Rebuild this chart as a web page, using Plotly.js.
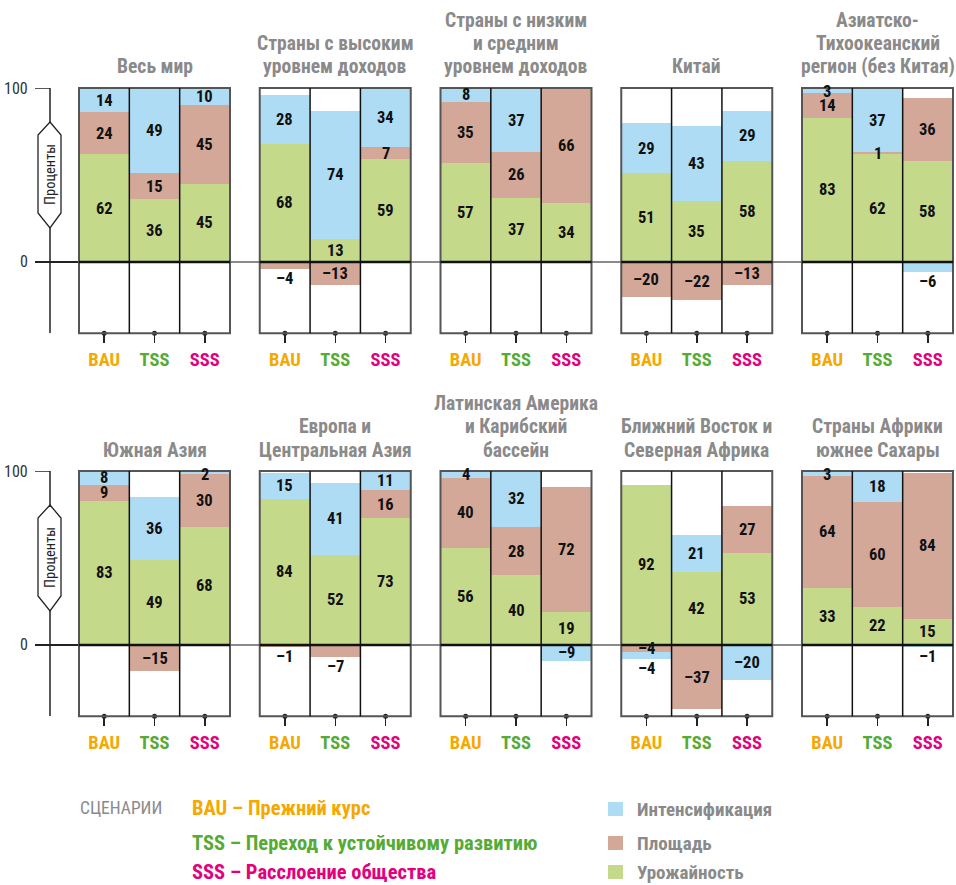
<!DOCTYPE html>
<html><head><meta charset="utf-8">
<script src="https://cdn.plot.ly/plotly-3.0.1.min.js"></script>
<style>body{margin:0;background:#fff}</style>
</head><body><div id="chart" style="width:956px;height:885px"></div>
<script>
// ---------------- DATA ----------------
const scenarios = ['BAU', 'TSS', 'SSS'];
const scenarioNames = ['Прежний курс', 'Переход к устойчивому развитию', 'Расслоение общества'];
const regions = [
  'Весь мир',
  'Страны с высоким<br>уровнем доходов',
  'Страны с низким<br>и средним<br>уровнем доходов',
  'Китай',
  'Азиатско-<br>Тихоокеанский<br>регион (без Китая)',
  'Южная Азия',
  'Европа и<br>Центральная Азия',
  'Латинская Америка<br>и Карибский<br>бассейн',
  'Ближний Восток и<br>Северная Африка',
  'Страны Африки<br>южнее Сахары'
];
// per region: [BAU, TSS, SSS]
const yieldVals  = [[62,36,45],[68,13,59],[57,37,34],[51,35,58],[83,62,58],[83,49,68],[84,52,73],[56,40,19],[92,42,53],[33,22,15]];
const areaVals   = [[24,15,45],[-4,-13,7],[35,26,66],[-20,-22,-13],[14,1,36],[9,-15,30],[-1,-7,16],[40,28,72],[-4,-37,27],[64,60,84]];
const intensVals = [[14,49,10],[28,74,34],[8,37,0],[29,43,29],[3,37,-6],[8,36,2],[15,41,11],[4,32,-9],[-4,21,-20],[3,18,-1]];
const componentNames = ['Интенсификация', 'Площадь', 'Урожайность'];
const axisLabel = 'Проценты';
const legendTitle = 'СЦЕНАРИИ';
const yTicks = [0, 100];

// ---------------- STYLE ----------------
const W = 956, H = 885;
const COND = "'Roboto Condensed', Roboto, sans-serif";
const colYield = '#c5d98a', colArea = '#d4a898', colInt = '#aedcf5';
const scenColors = ['#f5a800', '#55ab34', '#e4007c'];
const titleGray = '#8a8a8a';
const yRange = [-41, 100];
const px = v => v / W;
const py = v => 1 - v / H;

const rowTop = [88, 471];
const rowBot = [333.3, 716.3];
const titleLastLine = [67, 450];
const titleLineGap = 23.5;
const panelLeft = c => 79 + c * 180.75;
const panelW = 151;
const scenRowY = [808, 843, 872];
const compRowY = [809, 843, 872];

const data = [];
const layout = {
  width: W, height: H,
  margin: {l: 0, r: 0, t: 0, b: 0},
  paper_bgcolor: '#fff', plot_bgcolor: 'rgba(0,0,0,0)',
  barmode: 'relative', bargap: 0,
  showlegend: false,
  hovermode: false,
  shapes: [], annotations: []
};

for (let r = 0; r < 2; r++) {
  const yref = 'y' + (r * 5 + 1);
  layout.shapes.push({type: 'line', xref: 'paper', yref: yref, x0: px(35), x1: px(954), y0: 0, y1: 0,
    line: {color: '#8a8a8a', width: 2}, layer: 'below'});
  layout.shapes.push({type: 'line', xref: 'paper', yref: yref, x0: px(50), x1: px(50), y0: yRange[0], y1: 100,
    line: {color: '#222', width: 1.5}, layer: 'above'});
  layout.shapes.push({type: 'line', xref: 'paper', yref: yref, x0: px(35), x1: px(50), y0: 100, y1: 100,
    line: {color: '#222', width: 1.5}, layer: 'above'});
  layout.shapes.push({type: 'line', xref: 'paper', yref: yref, x0: px(35), x1: px(79), y0: 0, y1: 0,
    line: {color: '#222', width: 2}, layer: 'above'});
  yTicks.forEach(t => layout.annotations.push({xref: 'paper', yref: yref, x: px(30), y: t, text: String(t),
    showarrow: false, xanchor: 'right', yanchor: 'middle', font: {family: COND, size: 16, color: '#333'}}));
  const o = r * 383;
  const pts = [[50,122],[61,135],[61,213],[50,228],[38,213],[38,135]];
  const path = 'M ' + pts.map(p => px(p[0]) + ',' + py(p[1] + o)).join(' L ') + ' Z';
  layout.shapes.push({type: 'path', xref: 'paper', yref: 'paper', path: path,
    fillcolor: '#fff', line: {color: '#222', width: 1.3}, layer: 'above'});
  layout.annotations.push({xref: 'paper', yref: 'paper', x: px(50), y: py(175 + o), text: axisLabel, textangle: -90,
    showarrow: false, xanchor: 'center', yanchor: 'middle', font: {family: COND, size: 14.5, color: '#222'}});
}

const tickText = scenarios.map((s, i) => `<span style="color:${scenColors[i]}"><b>${s}</b></span>`);

regions.forEach((name, i) => {
  const n = i + 1, r = Math.floor(i / 5), c = i % 5;
  const xa = 'x' + n, ya = 'y' + n;
  const L = panelLeft(c);
  layout['xaxis' + n] = {
    domain: [px(L), px(L + panelW)], anchor: ya, type: 'category', range: [-0.5, 2.5],
    categoryorder: 'array', categoryarray: scenarios,
    tickvals: scenarios, ticktext: tickText, ticks: 'outside', ticklen: 9, tickwidth: 1.5, tickcolor: '#222',
    tickfont: {family: COND, size: 18.5}, showline: false, showgrid: false, zeroline: false, fixedrange: true
  };
  layout['yaxis' + n] = {
    domain: [py(rowBot[r]), py(rowTop[r])], anchor: xa, range: yRange, visible: false, fixedrange: true
  };
  const series = [[yieldVals[i], colYield], [areaVals[i], colArea], [intensVals[i], colInt]];
  series.forEach(([vals, col]) => data.push({
    type: 'bar', x: scenarios, y: vals, xaxis: xa, yaxis: ya,
    marker: {color: col, line: {width: 0}}, hoverinfo: 'skip'
  }));
  data.push({type: 'scatter', mode: 'markers', x: scenarios, y: scenarios.map(() => yRange[0]), xaxis: xa, yaxis: ya,
    marker: {color: '#222', size: 5}, cliponaxis: false, hoverinfo: 'skip'});
  layout.shapes.push({type: 'rect', xref: xa + ' domain', yref: ya + ' domain', x0: 0, x1: 1, y0: 0, y1: 1,
    line: {color: '#555', width: 2}, layer: 'above'});
  [0.5, 1.5].forEach(s => layout.shapes.push({type: 'line', xref: xa, yref: ya + ' domain', x0: s, x1: s, y0: 0, y1: 1,
    line: {color: '#111', width: 1.5}, layer: 'above'}));
  layout.shapes.push({type: 'line', xref: xa + ' domain', yref: ya, x0: 0, x1: 1, y0: 0, y1: 0,
    line: {color: '#111', width: 2.5}, layer: 'above'});
  const lines = name.split('<br>');
  lines.forEach((ln, li) => {
    const yc = titleLastLine[r] - (lines.length - 1 - li) * titleLineGap;
    layout.annotations.push({xref: xa + ' domain', yref: 'paper', x: 0.5, y: py(yc), text: '<b>' + ln + '</b>',
      showarrow: false, xanchor: 'center', yanchor: 'middle', align: 'center',
      font: {family: COND, size: 19.6, color: titleGray}});
  });
  scenarios.forEach((s, k) => {
    const segs = [yieldVals[i][k], areaVals[i][k], intensVals[i][k]];
    let pos = 0, neg = 0;
    const negIdx = segs.map((v, j) => v < 0 ? j : -1).filter(j => j >= 0);
    const lastNeg = negIdx.length ? negIdx[negIdx.length - 1] : -1;
    segs.forEach((v, j) => {
      if (v === 0) return;
      let y;
      if (v > 0) {
        y = Math.min(pos + v / 2, 98.2);
        pos += v;
      } else {
        const end = neg + v;
        if (Math.abs(v) <= 7 && j === lastNeg) y = end - 5.5;
        else y = neg + v / 2;
        neg = end;
      }
      layout.annotations.push({xref: xa, yref: ya, x: s, y: y, text: '<b>' + (v < 0 ? '–' + Math.abs(v) : v) + '</b>',
        showarrow: false, xanchor: 'center', yanchor: 'middle', font: {family: COND, size: 16.5, color: '#111'}});
    });
  });
});

layout.annotations.push({xref: 'paper', yref: 'paper', x: px(78), y: py(808), text: legendTitle, showarrow: false,
  xanchor: 'left', yanchor: 'middle', font: {family: COND, size: 17.5, color: '#8a8a8a'}});
scenarios.forEach((s, k) => layout.annotations.push({xref: 'paper', yref: 'paper', x: px(190), y: py(scenRowY[k]),
  text: '<b>' + s + ' – ' + scenarioNames[k] + '</b>', showarrow: false, xanchor: 'left', yanchor: 'middle',
  font: {family: COND, size: 20.5, color: scenColors[k]}}));
const legCols = [colInt, colArea, colYield];
componentNames.forEach((nm, k) => {
  const yc = compRowY[k];
  layout.shapes.push({type: 'rect', xref: 'paper', yref: 'paper', x0: px(608), x1: px(623), y0: py(yc - 7), y1: py(yc + 7),
    fillcolor: legCols[k], line: {width: 0}});
  layout.annotations.push({xref: 'paper', yref: 'paper', x: px(635), y: py(yc), text: '<b>' + nm + '</b>', showarrow: false,
    xanchor: 'left', yanchor: 'middle', font: {family: COND, size: 19, color: '#8a8a8a'}});
});

Plotly.newPlot('chart', data, layout, {staticPlot: true, displayModeBar: false});
</script>
</body></html>
